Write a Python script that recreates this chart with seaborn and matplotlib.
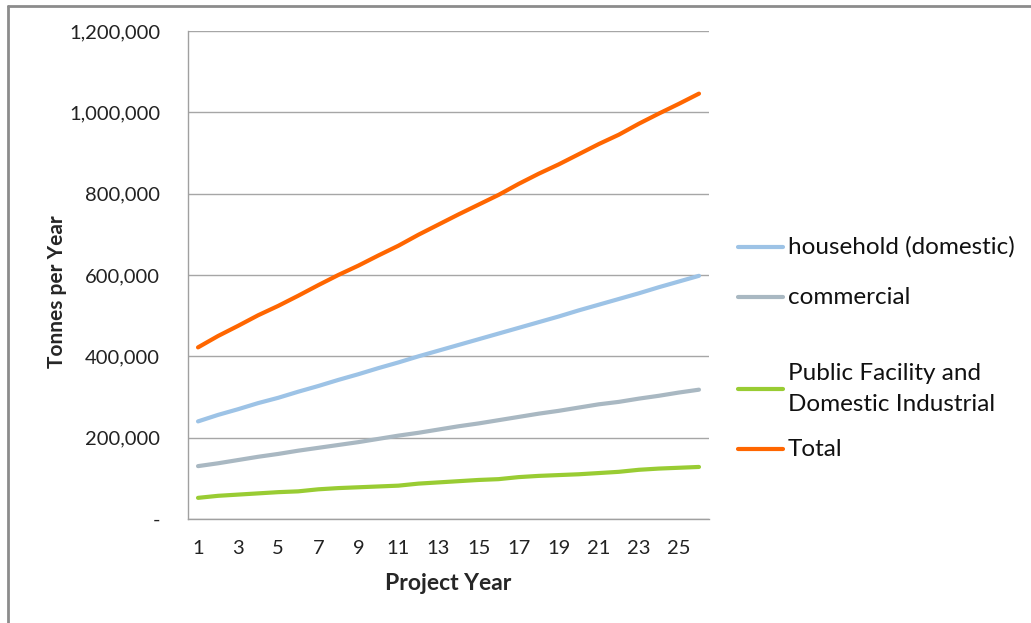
import matplotlib
matplotlib.use("Agg")
import matplotlib.pyplot as plt
import seaborn as sns
import pandas as pd
from matplotlib.lines import Line2D
from matplotlib.ticker import FuncFormatter

# data
years = list(range(1, 27))
household = [240000, 256000, 270000, 285000, 298000, 313000, 327000, 342000, 356000, 371000,
             385000, 400000, 414000, 428000, 442000, 456000, 470000, 484000, 498000, 513000,
             527000, 541000, 555000, 570000, 584000, 598000]
commercial = [130000, 137000, 145000, 153000, 160000, 168000, 175000, 182000, 189000, 197000,
              205000, 212000, 220000, 228000, 235000, 243000, 251000, 259000, 266000, 274000,
              282000, 288000, 296000, 303000, 311000, 318000]
public = [52000, 57000, 60000, 63000, 66000, 68000, 73000, 76000, 78000, 80000,
          82000, 87000, 90000, 93000, 96000, 98000, 103000, 106000, 108000, 110000,
          113000, 116000, 121000, 124000, 126000, 128000]
total = [422000, 450000, 475000, 501000, 524000, 549000, 575000, 600000, 623000, 648000,
         672000, 699000, 724000, 749000, 773000, 797000, 824000, 849000, 872000, 897000,
         922000, 945000, 972000, 997000, 1021000, 1046000]

series_names = ["household (domestic)", "commercial",
                "Public Facility and\nDomestic Industrial", "Total"]
colors = ["#9DC3E6", "#A9B8C2", "#99CC33", "#FF6600"]

df = pd.DataFrame({
    "year": years * 4,
    "tonnes": household + commercial + public + total,
    "series": ([series_names[0]] * 26 + [series_names[1]] * 26
               + [series_names[2]] * 26 + [series_names[3]] * 26),
})

sns.set_style("white")
plt.rcParams["font.family"] = ["Lato", "DejaVu Sans"]

W, H = 1031, 623
fig = plt.figure(figsize=(W / 100, H / 100), dpi=100)
ax = fig.add_axes([188 / W, 1 - 519 / H, (709 - 188) / W, (519 - 31) / H])

sns.lineplot(data=df, x="year", y="tonnes", hue="series", hue_order=series_names,
             palette=colors, linewidth=3, legend=False, ax=ax)

ax.set_xlim(0.5, 26.5)
ax.set_ylim(0, 1200000)
ax.set_yticks(range(0, 1200001, 200000))
ax.yaxis.set_major_formatter(FuncFormatter(lambda v, p: "-" if v == 0 else f"{int(v):,}"))
ax.set_xticks(range(1, 26, 2))
ax.set_xticks([x + 0.5 for x in range(0, 27)], minor=True)
ax.tick_params(axis="x", which="major", length=0, pad=15, labelsize=14.5, labelcolor="#222222")
ax.tick_params(axis="x", which="minor", length=6, width=1, color="#A0A0A0", direction="out")
ax.tick_params(axis="y", which="major", length=6, width=1, color="#A0A0A0",
               direction="out", labelsize=14.5, pad=14, labelcolor="#222222")

ax.grid(axis="y", color="#A6A6A6", linewidth=1)
ax.set_axisbelow(True)
for side in ["top", "right"]:
    ax.spines[side].set_visible(False)
for side in ["left", "bottom"]:
    ax.spines[side].set_color("#A0A0A0")
    ax.spines[side].set_linewidth(1)

ax.set_xlabel("Project Year", fontsize=16.5, fontweight="bold", labelpad=12)
ax.set_ylabel("Tonnes per Year", fontsize=15, fontweight="bold")
ax.yaxis.set_label_coords(-0.233, 0.465)

# legend laid out like the Excel one (uneven spacing)
legend_y = [247, 297, 389, 449]
for name, c, yp in zip(series_names, colors, legend_y):
    fy = 1 - yp / H
    fig.add_artist(Line2D([738 / W, 783 / W], [fy, fy], transform=fig.transFigure,
                          color=c, linewidth=3))
    fig.text(788 / W, fy, name, fontsize=17.5, va="center", ha="left",
             linespacing=1.55, color="#111111")

# outer frame: only left and top edges are visible in the reference
fig.add_artist(Line2D([8 / W, 8 / W], [0, 1 - 6 / H], transform=fig.transFigure,
                      color="#8C8C8C", linewidth=2))
fig.add_artist(Line2D([8 / W, 1], [1 - 6 / H, 1 - 6 / H], transform=fig.transFigure,
                      color="#8C8C8C", linewidth=2))

fig.savefig("out.png", dpi=100)
